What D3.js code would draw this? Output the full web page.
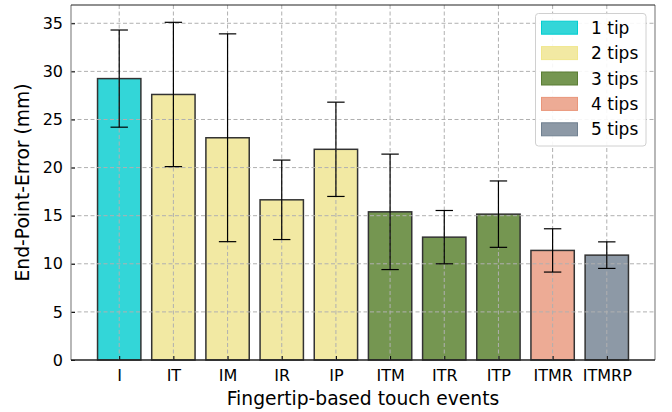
<!DOCTYPE html>
<html>
<head>
<meta charset="utf-8">
<script src="https://cdn.jsdelivr.net/npm/d3@7"></script>
<style>
  body { margin: 0; background: #fff; }
  text { font-family: "DejaVu Sans", sans-serif; fill: #000; }
</style>
</head>
<body>
<script>
// data
var categories = ["I", "IT", "IM", "IR", "IP", "ITM", "ITR", "ITP", "ITMR", "ITMRP"];
var means = [29.25, 27.6, 23.1, 16.65, 21.9, 15.4, 12.77, 15.16, 11.39, 10.9];
var errors = [5.05, 7.5, 10.8, 4.13, 4.9, 6.0, 2.77, 3.45, 2.25, 1.38];
var tips = [1, 2, 2, 2, 2, 3, 3, 3, 4, 5];
var legendLabels = ["1 tip", "2 tips", "3 tips", "4 tips", "5 tips"];
var fills = ["#33d6d8", "#f2e9a3", "#759651", "#edab95", "#8d99a6"];
var edges = ["#00ced1", "#f0e68c", "#5a7d34", "#e9967a", "#708090"];
var yTicks = [0, 5, 10, 15, 20, 25, 30, 35];

var margin = { top: 5, right: 17, bottom: 52, left: 71 },
    width = 672 - margin.left - margin.right,
    height = 412 - margin.top - margin.bottom;

var svg = d3.select("body")
    .append("svg")
    .attr("width", 672)
    .attr("height", 412);

var g = svg.append("g")
    .attr("transform", "translate(" + margin.left + "," + margin.top + ")");

// matplotlib style: bar width 0.8, 5% margins
var x = d3.scaleLinear()
    .domain([-0.89, categories.length - 1 + 0.89])
    .range([0, width]);
var barW = x(0.8) - x(0);

var y = d3.scaleLinear()
    .domain([0, 36.9])
    .range([height, 0]);

// bars
g.selectAll(".bar")
    .data(categories)
    .enter()
    .append("rect")
    .attr("x", function (d, i) { return x(i) - barW / 2; })
    .attr("y", function (d, i) { return y(means[i]); })
    .attr("width", barW)
    .attr("height", function (d, i) { return height - y(means[i]); })
    .attr("fill", function (d, i) { return fills[tips[i] - 1]; })
    .attr("stroke", "#333")
    .attr("stroke-width", 1.5);

// grid on top of bars
g.append("g")
    .selectAll("line")
    .data(yTicks.slice(1))
    .enter()
    .append("line")
    .attr("x1", 0).attr("x2", width)
    .attr("y1", function (d) { return y(d); })
    .attr("y2", function (d) { return y(d); })
    .attr("stroke", "#b0b0b0")
    .attr("stroke-width", 1)
    .attr("stroke-dasharray", "4,2.5");
g.append("g")
    .selectAll("line")
    .data(categories)
    .enter()
    .append("line")
    .attr("x1", function (d, i) { return x(i); })
    .attr("x2", function (d, i) { return x(i); })
    .attr("y1", 0).attr("y2", height)
    .attr("stroke", "#b0b0b0")
    .attr("stroke-width", 1)
    .attr("stroke-dasharray", "4,2.5");

// error bars
var cap = 8.7;
var eb = g.append("g").selectAll("g")
    .data(categories)
    .enter()
    .append("g")
    .attr("stroke", "#000")
    .attr("stroke-width", 1.2);
eb.append("line")
    .attr("x1", function (d, i) { return x(i); })
    .attr("x2", function (d, i) { return x(i); })
    .attr("y1", function (d, i) { return y(means[i] - errors[i]); })
    .attr("y2", function (d, i) { return y(means[i] + errors[i]); });
eb.append("line")
    .attr("x1", function (d, i) { return x(i) - cap; })
    .attr("x2", function (d, i) { return x(i) + cap; })
    .attr("y1", function (d, i) { return y(means[i] + errors[i]); })
    .attr("y2", function (d, i) { return y(means[i] + errors[i]); });
eb.append("line")
    .attr("x1", function (d, i) { return x(i) - cap; })
    .attr("x2", function (d, i) { return x(i) + cap; })
    .attr("y1", function (d, i) { return y(means[i] - errors[i]); })
    .attr("y2", function (d, i) { return y(means[i] - errors[i]); });

// axes
var xAxis = g.append("g")
    .attr("transform", "translate(0," + height + ")")
    .call(d3.axisBottom(x)
        .tickValues(d3.range(categories.length))
        .tickFormat(function (i) { return categories[i]; })
        .tickSizeInner(-4).tickSizeOuter(0).tickPadding(10));
xAxis.select(".domain").remove();
xAxis.selectAll("line").attr("stroke", "#000");
xAxis.selectAll("text").attr("font-size", 16).attr("font-family", "DejaVu Sans");

var yAxis = g.append("g")
    .call(d3.axisLeft(y)
        .tickValues(yTicks)
        .tickSizeInner(-4).tickSizeOuter(0).tickPadding(8));
yAxis.select(".domain").remove();
yAxis.selectAll("line").attr("stroke", "#000");
yAxis.selectAll("text").attr("font-size", 16).attr("font-family", "DejaVu Sans");

// frame: left/right gray, top/bottom dark
g.append("line").attr("x1", 0).attr("x2", 0).attr("y1", 0).attr("y2", height)
    .attr("stroke", "#888").attr("stroke-width", 1.2);
g.append("line").attr("x1", width).attr("x2", width).attr("y1", 0).attr("y2", height)
    .attr("stroke", "#888").attr("stroke-width", 1.2);
g.append("line").attr("x1", 0).attr("x2", width).attr("y1", 0).attr("y2", 0)
    .attr("stroke", "#222").attr("stroke-width", 1.2);
g.append("line").attr("x1", 0).attr("x2", width).attr("y1", height).attr("y2", height)
    .attr("stroke", "#222").attr("stroke-width", 1.5);

// axis labels
svg.append("text")
    .attr("x", margin.left + width / 2)
    .attr("y", 405)
    .attr("text-anchor", "middle")
    .attr("font-size", 18.7)
    .text("Fingertip-based touch events");
svg.append("text")
    .attr("transform", "translate(29," + (margin.top + height / 2) + ")rotate(-90)")
    .attr("text-anchor", "middle")
    .attr("font-size", 18.7)
    .text("End-Point-Error (mm)");

// legend
var lg = svg.append("g").attr("transform", "translate(535.5,13.5)");
lg.append("rect")
    .attr("width", 110.5).attr("height", 132.5)
    .attr("rx", 3)
    .attr("fill", "#fff").attr("fill-opacity", 0.9)
    .attr("stroke", "#d0d0d0");
var items = lg.selectAll(".item")
    .data(legendLabels)
    .enter()
    .append("g")
    .attr("transform", function (d, i) { return "translate(0," + (14.2 + i * 25.4) + ")"; });
items.append("rect")
    .attr("x", 6).attr("y", -6.5)
    .attr("width", 36).attr("height", 13)
    .attr("fill", function (d, i) { return fills[i]; })
    .attr("stroke", function (d, i) { return edges[i]; });
items.append("text")
    .attr("x", 55.5).attr("dy", "0.36em")
    .attr("font-size", 17)
    .text(function (d) { return d; });
</script>
</body>
</html>
